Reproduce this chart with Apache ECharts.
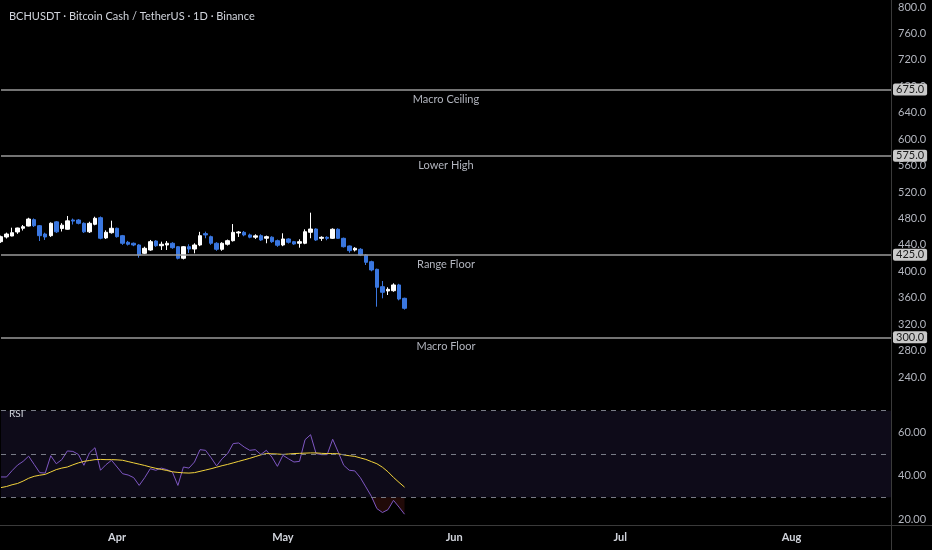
<!DOCTYPE html>
<html lang="en">
<head>
<meta charset="UTF-8" />
<title>BCHUSDT 1D</title>
<style>
  html, body { margin: 0; padding: 0; background: #000; }
  #main { width: 932px; height: 550px; }
</style>
</head>
<body>
<div id="main"></div>
<script src="https://cdn.jsdelivr.net/npm/echarts@6/dist/echarts.min.js"></script>
<script>
// daily candles Mar 11 -> May 23
const opens = [444.8, 451.9, 453.4, 459.5, 465.1, 468.5, 478.1, 469.0, 456.4, 453.9,
  474.8, 464.8, 463.6, 477.6, 477.6, 472.6, 459.7, 471.1, 481.1, 450.5,
  458.4, 465.1, 453.9, 443.9, 442.4, 439.8, 427.2, 432.2, 445.8, 438.7,
  439.8, 442.4, 437.2, 419.7, 437.2, 433.7, 439.8, 457.0, 452.4, 442.4,
  433.3, 440.9, 446.3, 458.0, 459.0, 455.0, 451.6, 453.9, 450.0, 451.6,
  446.3, 439.8, 448.9, 444.8, 442.4, 442.4, 459.0, 464.0, 449.9, 451.4,
  449.9, 463.6, 449.9, 438.3, 432.2, 433.3, 424.6, 414.5, 403.0, 376.7,
  370.2, 370.6, 379.3, 359.1];
const closes = [452.4, 456.4, 458.4, 465.5, 467.5, 479.1, 469.0, 453.9, 451.9, 472.7,
  459.7, 469.8, 476.3, 476.0, 472.6, 459.7, 472.6, 480.2, 450.0, 459.0,
  465.1, 452.4, 442.4, 440.9, 439.8, 424.6, 434.8, 444.8, 438.7, 440.9,
  442.4, 435.7, 419.7, 437.2, 433.7, 439.8, 453.9, 455.0, 442.4, 433.3,
  442.4, 446.3, 459.0, 459.5, 455.0, 451.6, 453.6, 447.4, 452.4, 444.8,
  439.4, 448.9, 443.9, 441.3, 444.8, 459.9, 464.0, 447.4, 451.4, 449.9,
  463.6, 449.9, 437.2, 431.2, 434.8, 424.6, 413.6, 402.0, 375.8, 368.2,
  372.7, 379.3, 358.0, 344.0];
const lows = [443.0, 449.6, 453.0, 456.6, 461.7, 468.0, 467.0, 445.8, 447.4, 452.0,
  458.0, 460.2, 463.0, 470.8, 471.0, 458.0, 458.0, 469.6, 448.4, 449.0,
  457.0, 451.0, 440.0, 439.0, 438.0, 420.6, 426.0, 431.0, 437.0, 432.2,
  432.2, 434.0, 418.0, 418.0, 427.7, 427.2, 438.0, 450.0, 440.0, 431.0,
  431.0, 439.0, 445.0, 452.0, 453.0, 450.0, 449.0, 446.0, 442.4, 443.0,
  437.0, 438.0, 442.0, 440.0, 435.7, 441.0, 450.0, 446.0, 446.0, 447.0,
  449.0, 449.0, 436.0, 428.1, 430.0, 423.0, 409.5, 400.0, 346.4, 359.1,
  364.1, 369.0, 356.0, 342.0];
const highs = [454.0, 458.5, 466.0, 466.0, 470.0, 481.0, 480.0, 470.0, 458.4, 474.0,
  476.0, 472.8, 483.7, 479.8, 479.0, 474.0, 475.0, 482.6, 483.0, 462.0,
  476.6, 466.0, 455.0, 446.0, 443.5, 441.0, 437.2, 447.4, 447.0, 444.8,
  445.8, 444.0, 438.0, 438.0, 440.9, 442.4, 459.7, 460.0, 454.0, 444.0,
  444.0, 448.0, 471.5, 461.0, 461.0, 457.0, 456.0, 456.0, 454.0, 453.0,
  448.0, 457.5, 450.0, 446.0, 448.4, 463.5, 488.7, 465.0, 453.0, 453.0,
  465.0, 465.0, 451.0, 439.0, 436.5, 435.0, 426.0, 416.0, 404.0, 385.3,
  375.8, 381.8, 381.0, 360.0];

// RSI and its moving average
const rsi = [39.4, 39.4, 42.3, 44.9, 46.6, 49.0, 45.2, 41.4, 41.2, 49.2,
  45.5, 47.4, 51.4, 51.2, 49.8, 44.8, 50.5, 52.9, 42.5, 45.1,
  47.1, 44.0, 40.9, 40.3, 39.1, 35.5, 39.1, 43.2, 42.5, 43.5,
  42.8, 41.7, 35.5, 44.0, 43.5, 46.3, 52.0, 51.7, 48.3, 44.5,
  47.8, 50.2, 54.8, 55.1, 53.2, 51.7, 52.0, 49.8, 51.7, 48.6,
  44.3, 49.4, 47.8, 46.3, 46.6, 56.6, 58.9, 50.2, 49.7, 49.7,
  56.8, 50.9, 44.8, 42.5, 42.2, 39.1, 34.8, 30.5, 24.8, 23.0,
  24.3, 28.6, 25.5, 22.2];
const rsiMa = [34.5, 35.0, 35.8, 36.4, 37.5, 38.8, 39.7, 40.2, 40.6, 41.7,
  42.8, 43.5, 44.0, 45.0, 45.9, 46.6, 47.0, 47.4, 47.5, 47.4,
  47.4, 47.3, 47.1, 46.5, 45.9, 45.3, 44.7, 44.0, 43.4, 42.9,
  42.4, 41.8, 41.5, 41.3, 41.2, 41.4, 42.0, 42.6, 43.2, 43.9,
  44.6, 45.2, 45.9, 46.6, 47.3, 48.0, 48.8, 49.6, 50.2, 50.1,
  50.0, 49.8, 50.0, 50.2, 50.3, 50.4, 50.5, 50.5, 50.3, 50.2,
  50.2, 50.1, 49.6, 49.2, 48.9, 48.2, 47.5, 46.5, 45.5, 43.9,
  41.8, 39.2, 36.9, 34.7];

const levels = [675, 575, 425, 300];
const levelNames = ['Macro Ceiling', 'Lower High', 'Range Floor', 'Macro Floor'];
const rsiBands = [70, 50, 30];
const monthNames = { 4: 'Apr', 5: 'May', 6: 'Jun', 7: 'Jul', 8: 'Aug' };

// visible date range: Mar 11 .. Aug 19
const days = [];
const start = Date.UTC(2025, 2, 11);
for (let i = 0; i < 162; i++) {
  days.push(new Date(start + i * 86400000).toISOString().slice(0, 10));
}

const candles = opens.map((o, i) => [o, closes[i], lows[i], highs[i]]);
const osBase = rsi.map(v => Math.min(v, 30));
const osFill = rsi.map(v => +(30 - Math.min(v, 30)).toFixed(1));

const UP = '#ffffff';
const DOWN = '#3a77e0';
const TXT = '#b2b5be';

let levelLines = [];
levels.forEach((v, i) => {
  levelLines.push({
    yAxis: v,
    label: {
      show: true, position: 'end', distance: 2,
      formatter: v.toFixed(1),
      backgroundColor: '#c9c9c9', color: '#1a1a1a',
      padding: [1, 3, 0, 3], borderRadius: 2, fontSize: 11
    }
  });
  levelLines.push({
    yAxis: v,
    lineStyle: { color: 'rgba(0,0,0,0)', width: 0 },
    label: {
      show: true, position: 'insideMiddleBottom', distance: 4,
      formatter: levelNames[i], color: TXT, fontSize: 11
    }
  });
});

let mchart = echarts.init(document.getElementById('main'), null, { renderer: 'canvas' });
let option = {
  backgroundColor: '#000000',
  animation: false,
  textStyle: { fontFamily: 'Lato, "Noto Sans", sans-serif' },
  title: [
    {
      text: 'BCHUSDT · Bitcoin Cash / TetherUS · 1D · Binance',
      left: 4, top: 6,
      textStyle: { color: '#d1d4dc', fontSize: 11, fontWeight: 'normal' }
    },
    {
      text: 'RSI',
      left: 4, top: 404,
      textStyle: { color: '#d1d4dc', fontSize: 10, fontWeight: 'normal' }
    }
  ],
  grid: [
    { left: 1, right: 41, top: 7, height: 370 },
    { left: 1, right: 41, top: 389, height: 130 }
  ],
  xAxis: [
    {
      type: 'category', gridIndex: 0, data: days, boundaryGap: false,
      show: false
    },
    {
      type: 'category', gridIndex: 1, data: days, boundaryGap: false,
      offset: 6,
      axisLine: { show: false },
      axisTick: { show: false },
      splitLine: { show: false },
      axisLabel: {
        color: '#d1d4dc', fontSize: 11, fontWeight: 'bold', margin: 7,
        interval: (idx, val) => val.slice(8) === '01',
        formatter: val => monthNames[+val.slice(5, 7)] || ''
      }
    }
  ],
  yAxis: [
    {
      type: 'value', gridIndex: 0, position: 'right',
      min: 240, max: 800, interval: 40,
      axisLine: { show: false }, axisTick: { show: false },
      splitLine: { show: false },
      axisLabel: { color: TXT, fontSize: 11, margin: 7, formatter: v => v.toFixed(1) }
    },
    {
      type: 'value', gridIndex: 1, position: 'right',
      min: 20, max: 80, interval: 20,
      axisLine: { show: false }, axisTick: { show: false },
      splitLine: { show: false },
      axisLabel: {
        color: TXT, fontSize: 11, margin: 7, showMaxLabel: false,
        formatter: v => v.toFixed(2)
      }
    }
  ],
  graphic: [
    { type: 'line', shape: { x1: 891.5, y1: 0, x2: 891.5, y2: 550 }, style: { stroke: '#3a3a3a', lineWidth: 1 }, z: 0 },
    { type: 'line', shape: { x1: 0, y1: 525.5, x2: 932, y2: 525.5 }, style: { stroke: '#3a3a3a', lineWidth: 1 }, z: 0 }
  ],
  series: [
    {
      name: 'BCHUSDT', type: 'candlestick',
      xAxisIndex: 0, yAxisIndex: 0,
      data: candles,
      barWidth: 4,
      itemStyle: { color: UP, color0: DOWN, borderColor: UP, borderColor0: DOWN, borderWidth: 1 },
      markLine: {
        silent: true, symbol: 'none',
        lineStyle: { color: '#9a9a9a', width: 1.5, type: 'solid' },
        data: levelLines
      }
    },
    {
      name: 'os-base', type: 'line', xAxisIndex: 1, yAxisIndex: 1,
      data: osBase, stack: 'os', showSymbol: false, silent: true,
      lineStyle: { opacity: 0 }
    },
    {
      name: 'os-fill', type: 'line', xAxisIndex: 1, yAxisIndex: 1,
      data: osFill, stack: 'os', showSymbol: false, silent: true,
      lineStyle: { opacity: 0 },
      areaStyle: { color: 'rgba(120, 35, 30, 0.4)' }
    },
    {
      name: 'RSI', type: 'line', xAxisIndex: 1, yAxisIndex: 1,
      data: rsi, showSymbol: false,
      lineStyle: { color: '#7e57c2', width: 1 },
      markArea: {
        silent: true,
        itemStyle: { color: '#0e0b19' },
        data: [[{ yAxis: rsiBands[0] }, { yAxis: rsiBands[2] }]]
      },
      markLine: {
        silent: true, symbol: 'none', label: { show: false },
        lineStyle: { color: '#787b86', width: 1, type: [5, 5] },
        data: rsiBands.map(v => ({ yAxis: v }))
      }
    },
    {
      name: 'RSI MA', type: 'line', xAxisIndex: 1, yAxisIndex: 1,
      data: rsiMa, showSymbol: false,
      lineStyle: { color: '#f2d33c', width: 1 }
    }
  ]
};
mchart.setOption(option);
</script>
</body>
</html>
